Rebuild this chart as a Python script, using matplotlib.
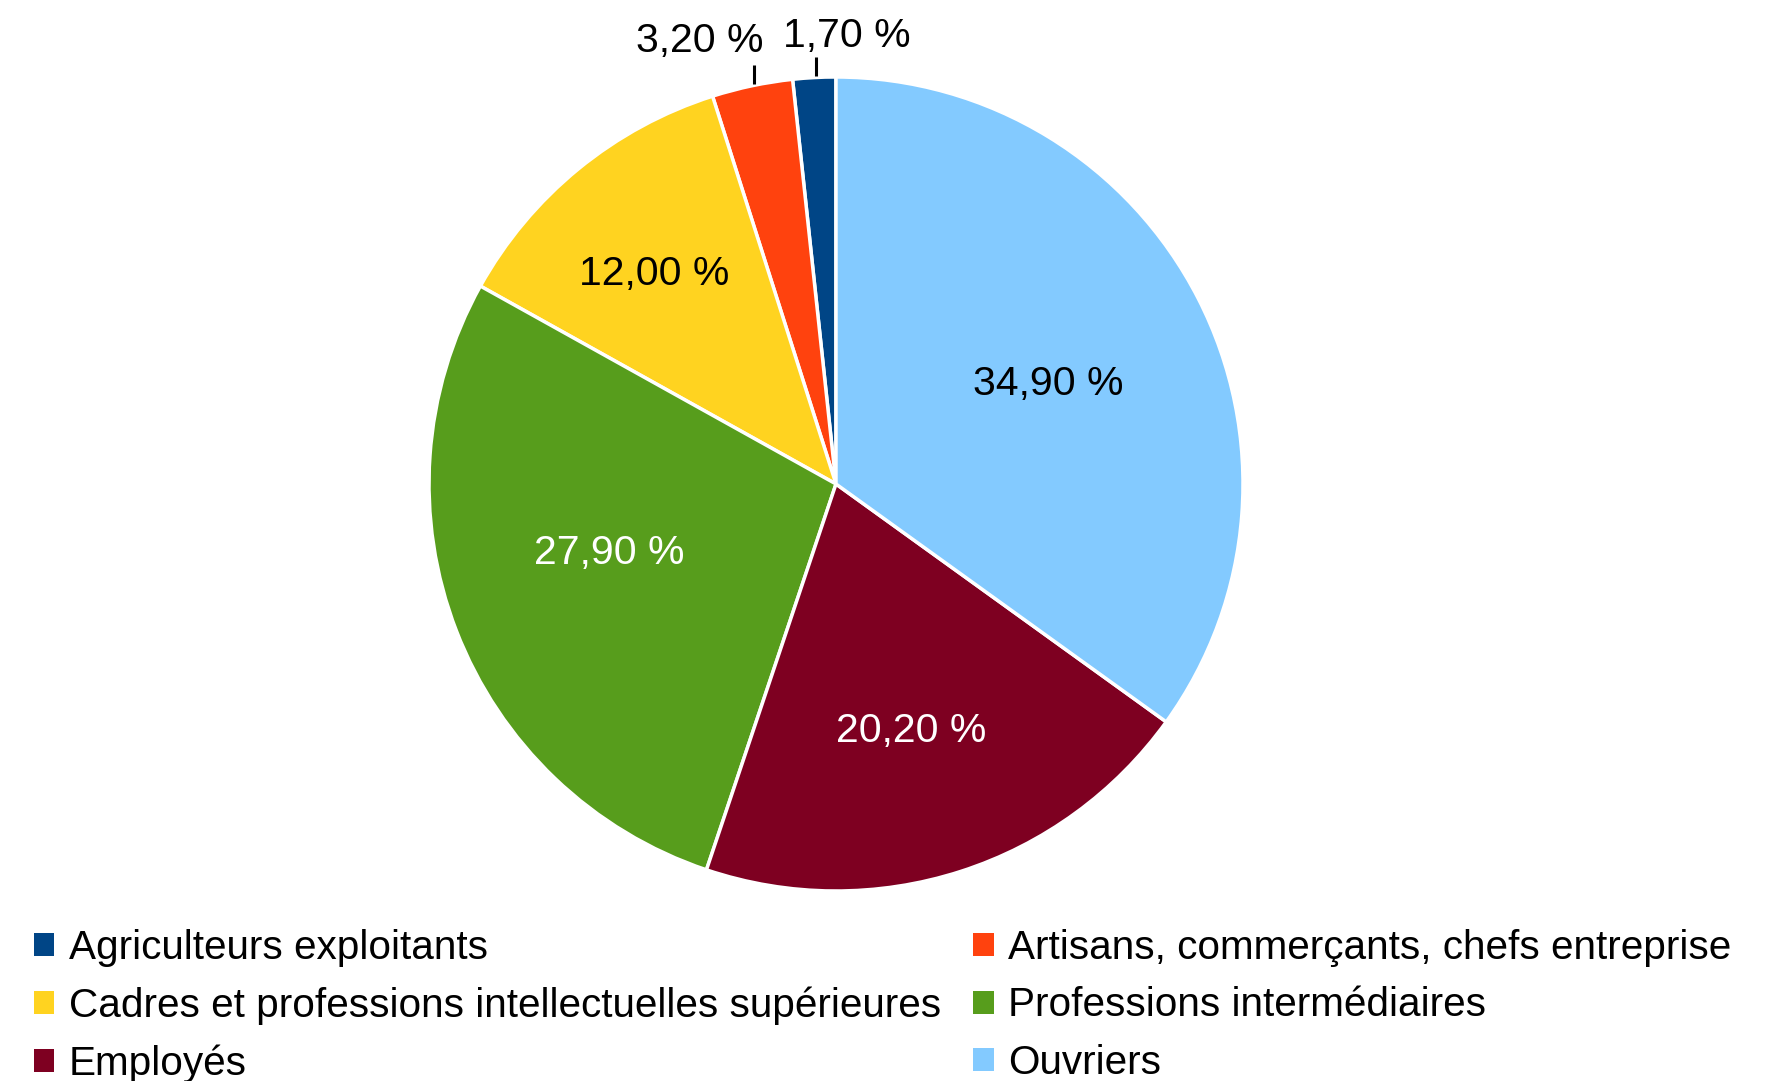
import numpy as np
import matplotlib.pyplot as plt
from matplotlib.patches import Patch

plt.rcParams['font.family'] = ['Liberation Sans', 'DejaVu Sans']

# data (percent)
categories = ['Agriculteurs exploitants',
              'Artisans, commerçants, chefs entreprise',
              'Cadres et professions intellectuelles supérieures',
              'Professions intermédiaires',
              'Employés',
              'Ouvriers']
values = [1.7, 3.2, 12.0, 27.9, 20.2, 34.9]
colors = ['#004586', '#ff420e', '#ffd320', '#579d1c', '#7e0021', '#83caff']
label_colors = ['black', 'black', 'black', 'white', 'white', 'black']

W, H = 1791, 1081
fig = plt.figure(figsize=(W / 100, H / 100), dpi=100)
ax = fig.add_axes([0, 0, 1, 1])

cx, cy, R = 836, 597, 407
FS = 29.5


def fmt(v):
    return f"{v:.2f} %".replace('.', ',')


wedges, _ = ax.pie(values, colors=colors, startangle=90, counterclock=True,
                   center=(cx, cy), radius=R, frame=True,
                   wedgeprops=dict(edgecolor='white', linewidth=2.5))
ax.set_xlim(0, W)
ax.set_ylim(0, H)
ax.set_aspect('equal')
ax.axis('off')

# label placement inside the slices: (radius fraction, angle shift in deg)
inside_pos = {2: (0.682, 1.6), 3: (0.583, -4.3), 4: (0.634, -0.9), 5: (0.577, -2.0)}
for i, w in enumerate(wedges):
    mid = (w.theta1 + w.theta2) / 2
    if values[i] >= 5:
        rf, da = inside_pos[i]
        a = np.deg2rad(mid + da)
        ax.text(cx + rf * R * np.cos(a), cy + rf * R * np.sin(a), fmt(values[i]),
                ha='center', va='center', fontsize=FS, color=label_colors[i])
    else:
        a = np.deg2rad(mid)
        x0, y0 = cx + R * np.cos(a), cy + R * np.sin(a)
        x0 = round(x0) + 2
        ax.plot([x0, x0], [y0 + 2, y0 + 21], color='black', lw=2.2,
                solid_capstyle='butt')
        if i == 1:
            ax.text(x0 + 10, y0 + 34, fmt(values[i]), ha='right', va='baseline',
                    fontsize=FS)
        else:
            ax.text(x0 - 33, y0 + 31, fmt(values[i]), ha='left', va='baseline',
                    fontsize=FS)

# legend: two columns, row-wise order
order = [0, 2, 4, 1, 3, 5]
handles = [Patch(facecolor=colors[k], edgecolor='none') for k in order]
labels = [categories[k] for k in order]
fig.legend(handles, labels, ncol=2, loc='upper left',
           bbox_to_anchor=(34 / W, 1 - 929 / H), frameon=False, fontsize=29.2,
           handlelength=0.5, handleheight=0.5, handletextpad=0.36,
           columnspacing=0.8, labelspacing=0.48, borderpad=0, borderaxespad=0)

fig.savefig('out.png', dpi=100)
